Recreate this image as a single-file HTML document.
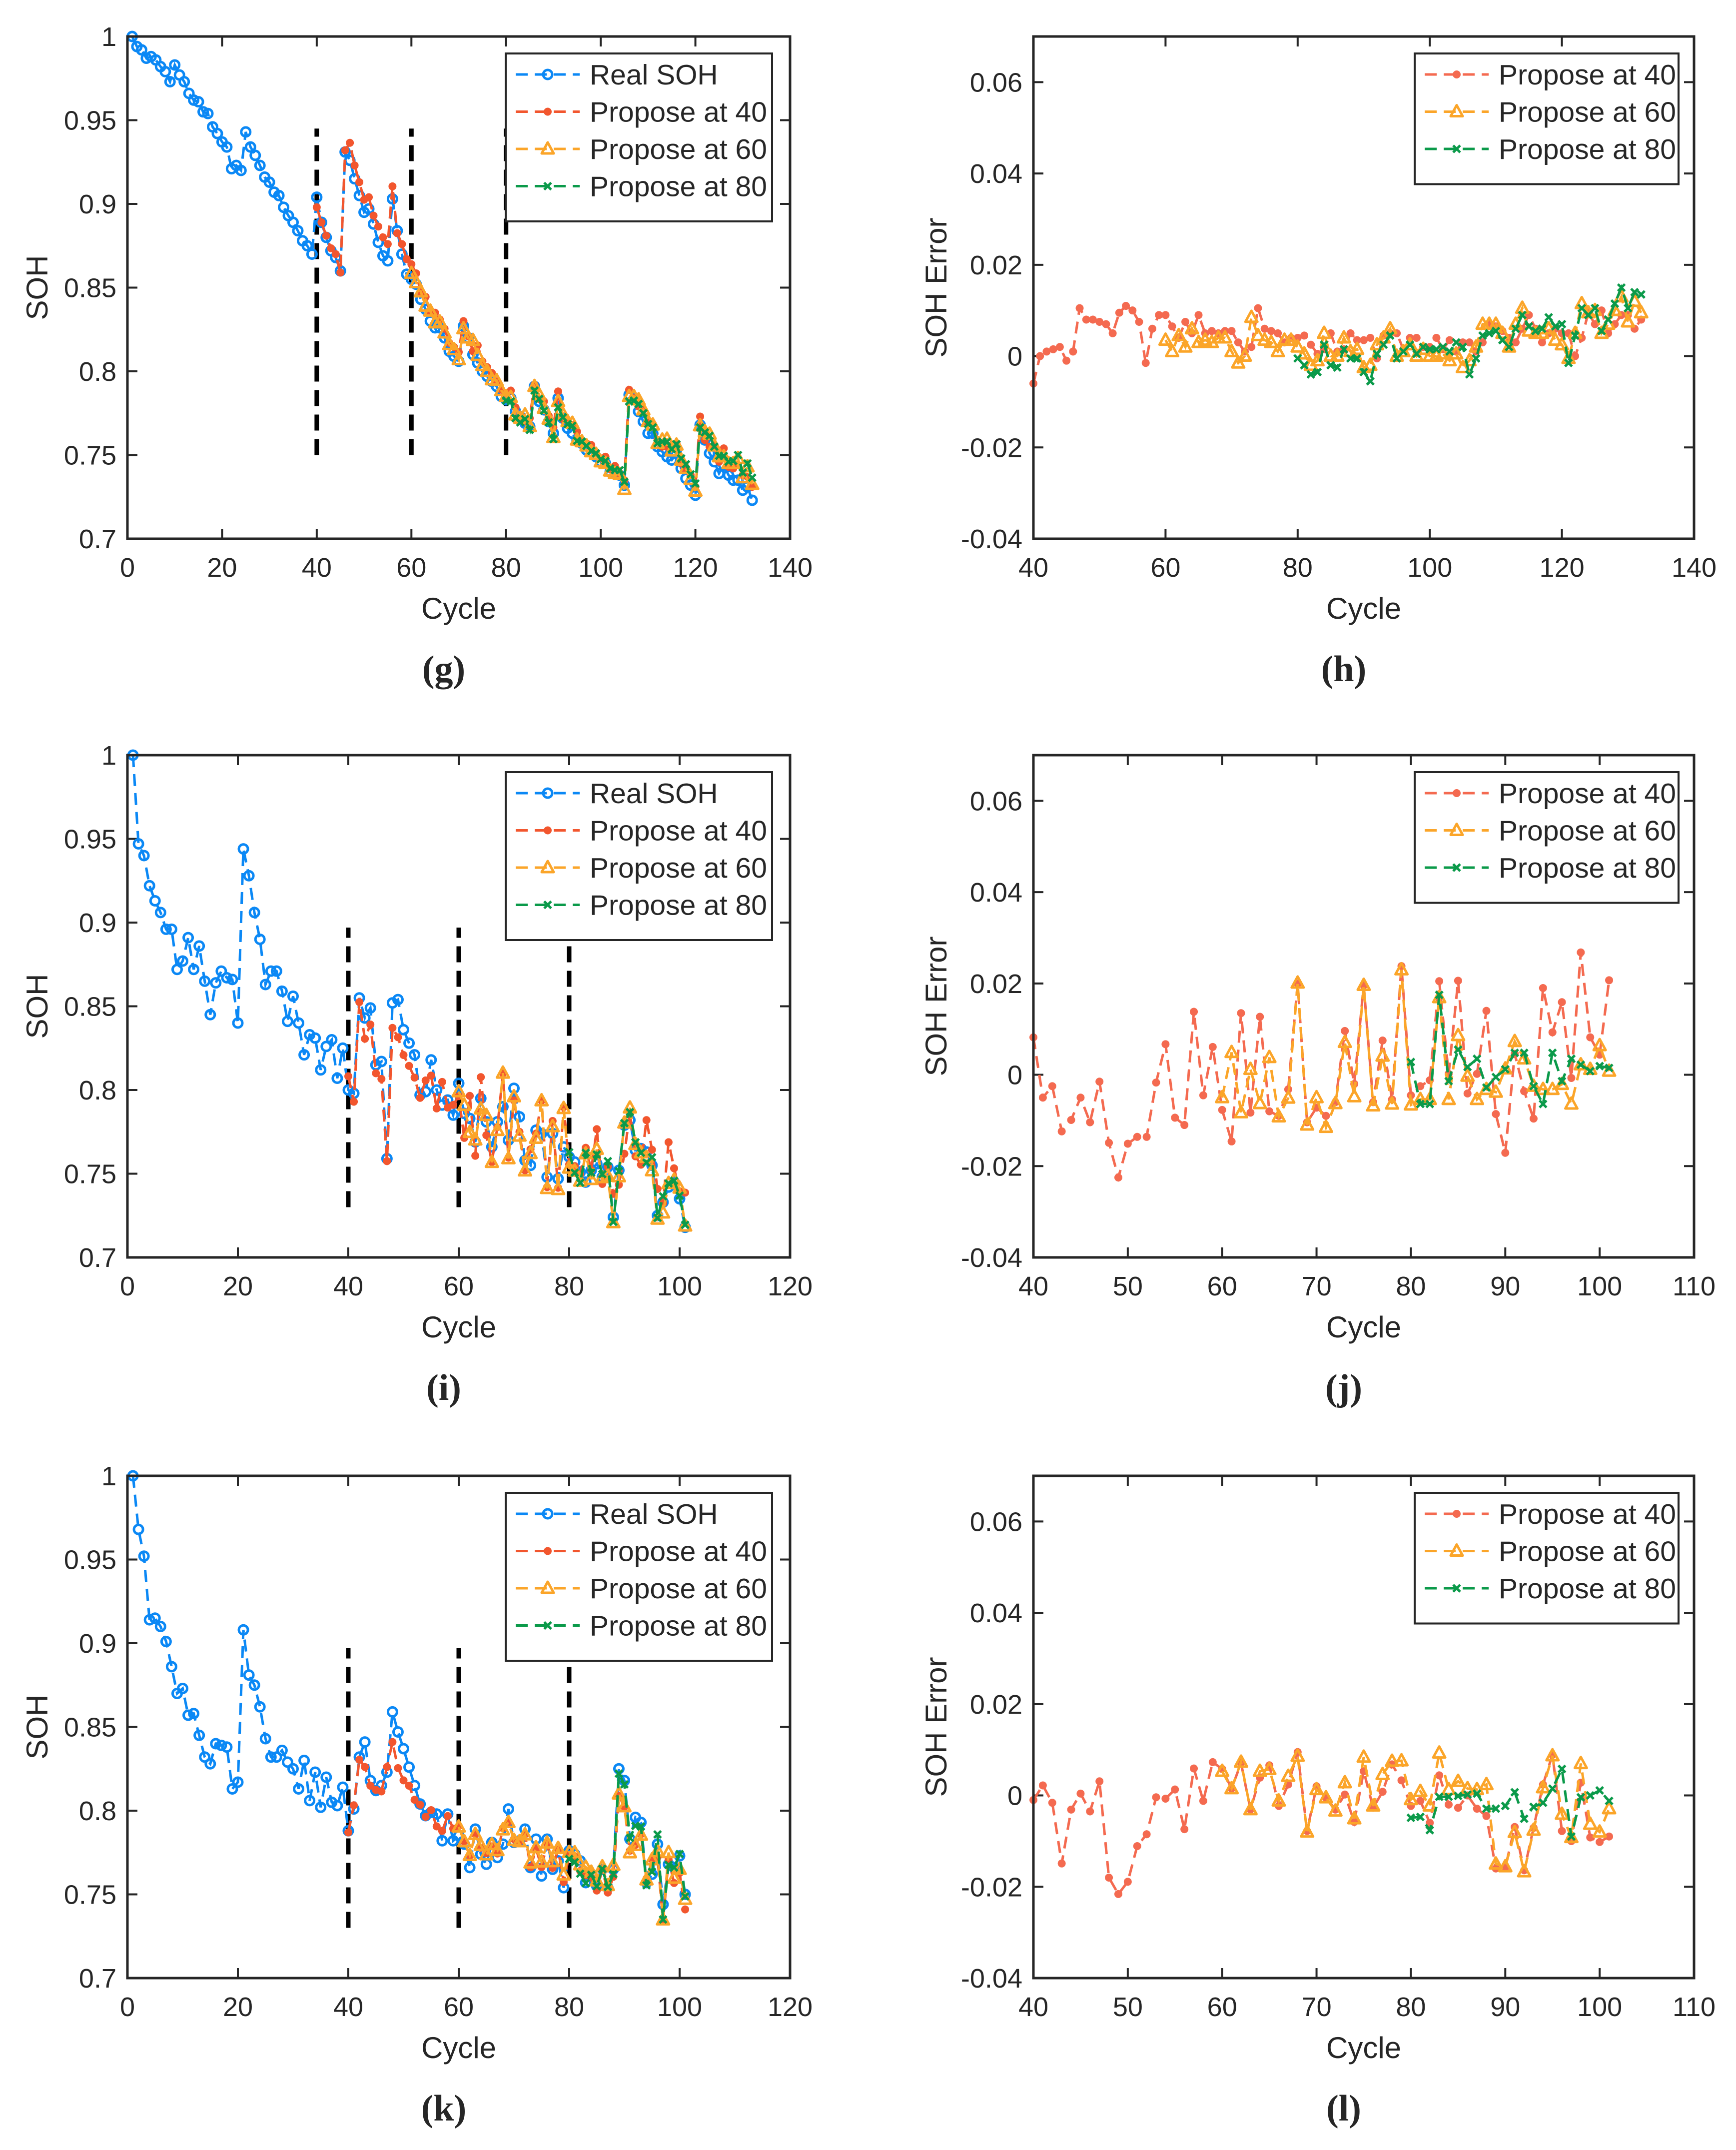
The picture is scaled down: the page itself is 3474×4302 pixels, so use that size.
<!DOCTYPE html>
<html><head><meta charset="utf-8">
<style>
html,body{margin:0;padding:0;background:#fff;}
svg{display:block;}
text{font-family:"Liberation Sans",sans-serif;fill:#262626;}
</style></head>
<body>
<svg id="fig" width="3474" height="4302" viewBox="0 0 3474 4302" xmlns="http://www.w3.org/2000/svg"></svg>
<script>
// ---------- data ----------
const gReal = [1.0,0.994,0.992,0.987,0.988,0.986,0.982,0.979,0.973,0.983,0.977,0.973,0.966,0.962,0.961,0.955,0.954,0.946,0.942,0.937,0.934,0.921,0.923,0.920,0.943,0.934,0.929,0.923,0.916,0.913,0.907,0.905,0.898,0.893,0.889,0.884,0.878,0.875,0.870,0.904,0.889,0.880,0.872,0.868,0.860,0.931,0.926,0.915,0.905,0.895,0.897,0.888,0.877,0.869,0.866,0.903,0.884,0.870,0.858,0.855,0.852,0.843,0.837,0.830,0.826,0.826,0.820,0.812,0.809,0.806,0.827,0.820,0.810,0.805,0.800,0.797,0.794,0.791,0.785,0.783,0.784,0.776,0.773,0.769,0.767,0.791,0.782,0.777,0.770,0.763,0.784,0.772,0.766,0.763,0.759,0.757,0.753,0.752,0.749,0.746,0.745,0.740,0.740,0.738,0.732,0.786,0.783,0.776,0.770,0.763,0.763,0.755,0.752,0.749,0.747,0.751,0.742,0.736,0.732,0.726,0.768,0.759,0.751,0.746,0.739,0.744,0.738,0.735,0.735,0.729,0.731,0.723];
const gErr40 = [-0.006,0.0,0.001,0.0015,0.002,-0.001,0.001,0.0105,0.008,0.008,0.0075,0.007,0.005,0.0095,0.011,0.010,0.0075,-0.0015,0.006,0.009,0.009,0.0065,0.004,0.0075,0.005,0.009,0.005,0.0055,0.005,0.0055,0.0055,0.003,0.001,0.002,0.0105,0.006,0.0055,0.005,0.003,0.004,0.004,0.0045,0.0025,0.0005,0.0015,0.005,0.001,0.0015,0.005,0.0035,0.0035,0.004,-0.0005,0.0045,0.005,0.005,0.0015,0.004,0.004,0.002,0.002,0.004,0.0015,0.0035,0.001,0.003,0.003,0.001,0.003,0.007,0.0065,0.0055,0.004,0.003,0.006,0.009,0.006,0.003,0.005,0.006,0.005,0.005,0.0,0.004,0.0095,0.007,0.010,0.005,0.007,0.009,0.009,0.006,0.008];
const gErr60 = [0.0035,0.001,0.0045,0.002,0.006,0.003,0.0035,0.003,0.004,0.004,0.001,-0.0015,0.0,0.0085,0.0045,0.0035,0.003,0.001,0.0035,0.0035,0.002,0.0005,-0.002,-0.001,0.005,0.0,0.0,0.004,0.001,0.0015,-0.0025,-0.002,0.0025,0.004,0.006,0.0,0.001,0.0025,0.0,0.0015,0.0,0.0,0.0005,-0.001,0.0005,-0.0025,-0.001,0.002,0.007,0.007,0.007,0.005,0.002,0.007,0.0105,0.0055,0.005,0.005,0.006,0.0035,0.0025,-0.0005,0.005,0.0115,0.0095,0.010,0.005,0.007,0.010,0.013,0.0075,0.012,0.0095];
const gErr80 = [-0.0005,-0.002,-0.004,-0.0035,0.0025,-0.002,-0.0025,0.0015,-0.0005,-0.0005,-0.0035,-0.0055,0.0005,0.0025,0.0045,-0.0005,0.001,0.0025,0.0005,0.002,0.0015,0.0015,0.002,0.001,0.003,0.002,-0.004,-0.0005,0.0045,0.005,0.0055,0.0035,0.002,0.006,0.009,0.0065,0.0055,0.006,0.0085,0.0065,0.007,-0.0015,0.0045,0.0105,0.009,0.0105,0.0055,0.008,0.0115,0.015,0.0105,0.014,0.0135];

const iReal = [1.0,0.947,0.940,0.922,0.913,0.906,0.896,0.896,0.872,0.877,0.891,0.872,0.886,0.865,0.845,0.864,0.871,0.867,0.866,0.840,0.944,0.928,0.906,0.890,0.863,0.871,0.871,0.859,0.841,0.856,0.840,0.821,0.833,0.831,0.812,0.826,0.830,0.807,0.825,0.800,0.798,0.855,0.843,0.849,0.815,0.817,0.759,0.852,0.854,0.836,0.828,0.821,0.797,0.799,0.818,0.800,0.791,0.794,0.785,0.804,0.786,0.783,0.769,0.795,0.781,0.766,0.781,0.790,0.770,0.801,0.784,0.758,0.755,0.776,0.774,0.748,0.774,0.747,0.766,0.760,0.757,0.751,0.745,0.752,0.756,0.748,0.754,0.724,0.752,0.779,0.782,0.764,0.765,0.763,0.755,0.725,0.733,0.742,0.745,0.735,0.718];
const jErr40 = [0.0082,-0.005,-0.0025,-0.0124,-0.0099,-0.005,-0.0104,-0.0015,-0.0149,-0.0225,-0.0151,-0.0136,-0.0136,-0.0017,0.0067,-0.0094,-0.011,0.0138,-0.0045,0.0061,-0.0077,-0.0146,0.0135,-0.0083,0.0127,-0.008,-0.009,-0.0032,0.020,-0.0104,-0.0072,-0.009,-0.006,0.0096,-0.002,0.0196,-0.006,0.0075,-0.0054,0.0238,-0.0045,-0.0025,-0.0012,0.0205,0.0002,0.0206,-0.0041,0.0002,0.014,-0.0086,-0.0171,0.0046,-0.0036,-0.0096,0.019,0.0093,0.0159,-0.0007,0.0268,0.0082,0.0044,0.0207];
const jErr60 = [-0.005,0.0049,-0.0083,0.0012,-0.0063,0.0038,-0.0092,-0.0051,0.0201,-0.011,-0.005,-0.0115,-0.0063,0.0071,-0.0048,0.0196,-0.0068,0.0041,-0.0064,0.023,-0.0066,-0.0054,-0.0054,0.0169,-0.0054,0.0086,-0.0003,-0.0054,-0.0032,-0.0038,0.0013,0.0073,0.0035,-0.0025,-0.0032,-0.0032,-0.0021,-0.0064,0.0022,0.0012,0.0064,0.0008];
const jErr80 = [0.0028,-0.0064,-0.0064,0.0175,-0.0014,0.0055,0.0017,0.0035,-0.0028,-0.0005,0.0012,0.0048,0.0048,-0.0025,-0.0064,0.0048,-0.0014,0.0035,0.0022,0.0008,0.0019,0.0015];

const kReal = [1.0,0.968,0.952,0.914,0.915,0.910,0.901,0.886,0.870,0.873,0.857,0.858,0.845,0.832,0.828,0.840,0.839,0.838,0.813,0.817,0.908,0.881,0.875,0.862,0.843,0.832,0.832,0.836,0.829,0.825,0.813,0.830,0.806,0.823,0.802,0.820,0.805,0.803,0.814,0.788,0.801,0.832,0.841,0.818,0.812,0.815,0.823,0.859,0.847,0.837,0.826,0.815,0.804,0.797,0.799,0.798,0.782,0.798,0.782,0.785,0.780,0.766,0.789,0.774,0.768,0.781,0.772,0.780,0.801,0.781,0.782,0.789,0.766,0.783,0.761,0.783,0.765,0.770,0.754,0.776,0.774,0.770,0.757,0.762,0.755,0.765,0.754,0.765,0.825,0.818,0.783,0.796,0.793,0.757,0.762,0.780,0.744,0.768,0.766,0.773,0.750];
const lErr40 = [-0.001,0.0022,-0.0016,-0.0149,-0.0031,0.0004,-0.0035,0.0031,-0.018,-0.0216,-0.0189,-0.0111,-0.0085,-0.0004,-0.0007,0.0013,-0.0074,0.0059,-0.0012,0.0073,0.0058,0.0015,0.0071,-0.0031,0.0039,0.0066,-0.0023,0.0024,0.0095,-0.0078,0.002,-0.0005,-0.0031,0.0002,-0.0058,0.0053,-0.0027,0.0008,0.0068,0.0033,-0.0023,-0.0012,-0.006,0.0044,-0.002,-0.0027,0.0,-0.0029,-0.0045,-0.016,-0.0158,-0.0069,-0.0164,-0.0071,0.0024,0.0089,-0.0078,-0.010,0.0028,-0.0092,-0.0102,-0.009];
const lErr60 = [0.0053,0.0015,0.0073,-0.0031,0.0053,0.0057,-0.0012,0.0042,0.0086,-0.008,0.0013,-0.0005,-0.0034,0.0028,-0.0051,0.0084,-0.0023,0.0046,0.0075,0.0076,-0.0009,0.0009,-0.0023,0.0093,0.0013,0.0031,0.0015,0.0013,0.0024,-0.015,-0.0156,-0.0081,-0.0167,-0.0076,0.0017,0.0087,-0.0041,-0.0092,0.007,-0.0063,-0.008,-0.0029];
const lErr80 = [-0.0049,-0.0047,-0.0076,-0.0003,-0.0003,-0.0001,0.0002,0.0004,-0.0029,-0.0029,-0.0023,0.0007,-0.0051,-0.0025,-0.0016,0.0015,0.0058,-0.009,-0.0004,0.0,0.0011,-0.0012];

const sohTicks = [0.7,0.75,0.8,0.85,0.9,0.95,1];
const sohTickLabels = ["0.7","0.75","0.8","0.85","0.9","0.95","1"];
const errTicks = [-0.04,-0.02,0,0.02,0.04,0.06];
const errTickLabels = ["-0.04","-0.02","0","0.02","0.04","0.06"];
const cycTicksWide = [0,20,40,60,80,100,120,140];
const cycTicksMid = [0,20,40,60,80,100,120];
const errCycTicksWide = [40,60,80,100,120,140];
const errCycTicksNarrow = [40,50,60,70,80,90,100,110];
const splitCycles = [40,60,80];
const startCycles = [40,60,80];

// ---------- drawing ----------
const NS = "http://www.w3.org/2000/svg";
const svg = document.getElementById('fig');
const C_BLUE = "#0b88f5", C_RED = "#f2562e", C_RED2 = "#f46a50", C_ORANGE = "#fba529", C_GREEN = "#0b9a4a", C_AX = "#262626";

function mk(tag, parent, attrs){
  const e = document.createElementNS(NS, tag);
  for (const k in attrs) e.setAttribute(k, attrs[k]);
  parent.appendChild(e);
  return e;
}
function txt(parent, x, y, s, size, anchor, extra){
  const t = mk('text', parent, Object.assign({x:x, y:y, 'font-size':size, 'text-anchor':anchor||'middle'}, extra||{}));
  t.textContent = s;
  return t;
}
function marker(g, type, x, y, color){
  let m;
  if (type === 'circle'){
    m = mk('circle', g, {cx:x, cy:y, r:9, fill:'none', stroke:color, 'stroke-width':5});
  } else if (type === 'dot'){
    m = mk('circle', g, {cx:x, cy:y, r:7, fill:color, stroke:color, 'stroke-width':2});
  } else if (type === 'tri'){
    m = mk('path', g, {d:`M${x},${y-13} L${x+12},${y+9} L${x-12},${y+9} Z`, fill:'none', stroke:color, 'stroke-width':5, 'stroke-linejoin':'round'});
  } else {
    m = mk('path', g, {d:`M${x-7},${y-7} L${x+7},${y+7} M${x+7},${y-7} L${x-7},${y+7}`, fill:'none', stroke:color, 'stroke-width':5});
  }
  
  
}
function series(parent, name, xs, ys, sx, sy, color, mtype){
  const g = mk('g', parent, {});
  
  
  const pts = xs.map((c,i)=>sx(c).toFixed(1)+','+sy(ys[i]).toFixed(1)).join(' ');
  mk('polyline', g, {points:pts, fill:'none', stroke:color, 'stroke-width':5, 'stroke-dasharray':'24 14'});
  xs.forEach((c,i)=>marker(g, mtype, sx(c), sy(ys[i]), color));
}
function range(a, n){ const r=[]; for(let i=0;i<n;i++) r.push(a+i); return r; }

function panel(o){
  const g = mk('g', svg, {});
  
  
  const L=o.x, T=o.y, W=o.w, H=o.h;
  const sx = v => L + (v-o.xmin)/(o.xmax-o.xmin)*W;
  const sy = v => T + H - (v-o.ymin)/(o.ymax-o.ymin)*H;
  const ax = mk('g', g, {});
  
  
  o.xticks.forEach(v=>{
    const X=sx(v);
    mk('line', ax, {x1:X,y1:T+H,x2:X,y2:T+H-20,stroke:C_AX,'stroke-width':4});
    mk('line', ax, {x1:X,y1:T,x2:X,y2:T+20,stroke:C_AX,'stroke-width':4});
    const t = txt(ax, X, T+H+76, String(v), 54, 'middle');
    
    
  });
  o.yticks.forEach((v,i)=>{
    const Y=sy(v);
    mk('line', ax, {x1:L,y1:Y,x2:L+20,y2:Y,stroke:C_AX,'stroke-width':4});
    mk('line', ax, {x1:L+W,y1:Y,x2:L+W-20,y2:Y,stroke:C_AX,'stroke-width':4});
    const t = txt(ax, L-22, Y+19, o.ylabels[i], 54, 'end');
    
    
  });
  const xt = txt(g, L+W/2, T+H+160, 'Cycle', 60, 'middle');
  
  
  const ytx = o.ytitleX, yty = T+H/2;
  const yt = txt(g, ytx, yty, o.ytitle, 60, 'middle', {transform:`rotate(-90 ${ytx} ${yty})`, dy:'21'});
  
  
  const cap = txt(g, L+W/2+o.capDx, T+H+285, o.caption, 74, 'middle', {'font-family':'"Liberation Serif",serif','font-weight':'bold'});
  cap.style.fontFamily = '"Liberation Serif",serif';
  
  

  if (o.split){
    splitCycles.forEach(c=>{
      const l = mk('line', g, {x1:sx(c),y1:sy(o.split[0]),x2:sx(c),y2:sy(o.split[1]),stroke:'#000','stroke-width':9,'stroke-dasharray':'32 17'});
      
      
    });
  }
  const cols = o.real ? [C_RED, C_ORANGE, C_GREEN] : [C_RED2, C_ORANGE, C_GREEN];
  const mtypes = ['dot','tri','x'];
  if (o.real){
    series(g, 'series-real-soh', range(1,o.real.length), o.real, sx, sy, C_BLUE, 'circle');
  }
  o.errs.forEach((e,k)=>{
    const xs = range(startCycles[k], e.length);
    const ys = o.real ? xs.map((c,i)=>o.real[c-1]+e[i]) : e;
    series(g, 'series-propose-'+startCycles[k], xs, ys, sx, sy, cols[k], mtypes[k]);
  });
  const fr = mk('rect', g, {x:L,y:T,width:W,height:H,fill:'none',stroke:C_AX,'stroke-width':5});
  
  
  const lg = mk('g', g, {});
  
  
  const items = o.real ? [['Real SOH',C_BLUE,'circle']] : [];
  ['Propose at 40','Propose at 60','Propose at 80'].forEach((s,k)=>items.push([s,cols[k],mtypes[k]]));
  const lx = o.legX, ly = T+34, lw = o.legW, lh = 38+items.length*74.5;
  mk('rect', lg, {x:lx,y:ly,width:lw,height:lh,fill:'#fff',stroke:C_AX,'stroke-width':4});
  items.forEach((it,i)=>{
    const cy = ly+42+i*74.5;
    const en = mk('g', lg, {});
    
    
    mk('line', en, {x1:lx+20,y1:cy,x2:lx+148,y2:cy,stroke:it[1],'stroke-width':5,'stroke-dasharray':'24 14'});
    marker(en, it[2], lx+84, cy, it[1]);
    txt(en, lx+168, cy+20, it[0], 57, 'start');
  });
}

const rowT = [73, 1511, 2953], H = 1005;
panel({name:'chart-g', x:255,y:rowT[0],w:1326,h:H, xmin:0,xmax:140,ymin:0.7,ymax:1,
  xticks:cycTicksWide, yticks:sohTicks, ylabels:sohTickLabels, ytitle:'SOH', ytitleX:74,
  real:gReal, errs:[gErr40,gErr60,gErr80], split:[0.75,0.945], legX:1012, legW:533, caption:'(g)', capDx:-30});
panel({name:'chart-h', x:2068,y:rowT[0],w:1322,h:H, xmin:40,xmax:140,ymin:-0.04,ymax:0.07,
  xticks:errCycTicksWide, yticks:errTicks, ylabels:errTickLabels, ytitle:'SOH Error', ytitleX:1873,
  errs:[gErr40,gErr60,gErr80], legX:2831, legW:528, caption:'(h)', capDx:-40});
panel({name:'chart-i', x:255,y:rowT[1],w:1326,h:H, xmin:0,xmax:120,ymin:0.7,ymax:1,
  xticks:cycTicksMid, yticks:sohTicks, ylabels:sohTickLabels, ytitle:'SOH', ytitleX:74,
  real:iReal, errs:[jErr40,jErr60,jErr80], split:[0.73,0.897], legX:1012, legW:533, caption:'(i)', capDx:-30});
panel({name:'chart-j', x:2068,y:rowT[1],w:1322,h:H, xmin:40,xmax:110,ymin:-0.04,ymax:0.07,
  xticks:errCycTicksNarrow, yticks:errTicks, ylabels:errTickLabels, ytitle:'SOH Error', ytitleX:1873,
  errs:[jErr40,jErr60,jErr80], legX:2831, legW:528, caption:'(j)', capDx:-40});
panel({name:'chart-k', x:255,y:rowT[2],w:1326,h:H, xmin:0,xmax:120,ymin:0.7,ymax:1,
  xticks:cycTicksMid, yticks:sohTicks, ylabels:sohTickLabels, ytitle:'SOH', ytitleX:74,
  real:kReal, errs:[lErr40,lErr60,lErr80], split:[0.73,0.897], legX:1012, legW:533, caption:'(k)', capDx:-30});
panel({name:'chart-l', x:2068,y:rowT[2],w:1322,h:H, xmin:40,xmax:110,ymin:-0.04,ymax:0.07,
  xticks:errCycTicksNarrow, yticks:errTicks, ylabels:errTickLabels, ytitle:'SOH Error', ytitleX:1873,
  errs:[lErr40,lErr60,lErr80], legX:2831, legW:528, caption:'(l)', capDx:-40});
</script>
</body></html>
